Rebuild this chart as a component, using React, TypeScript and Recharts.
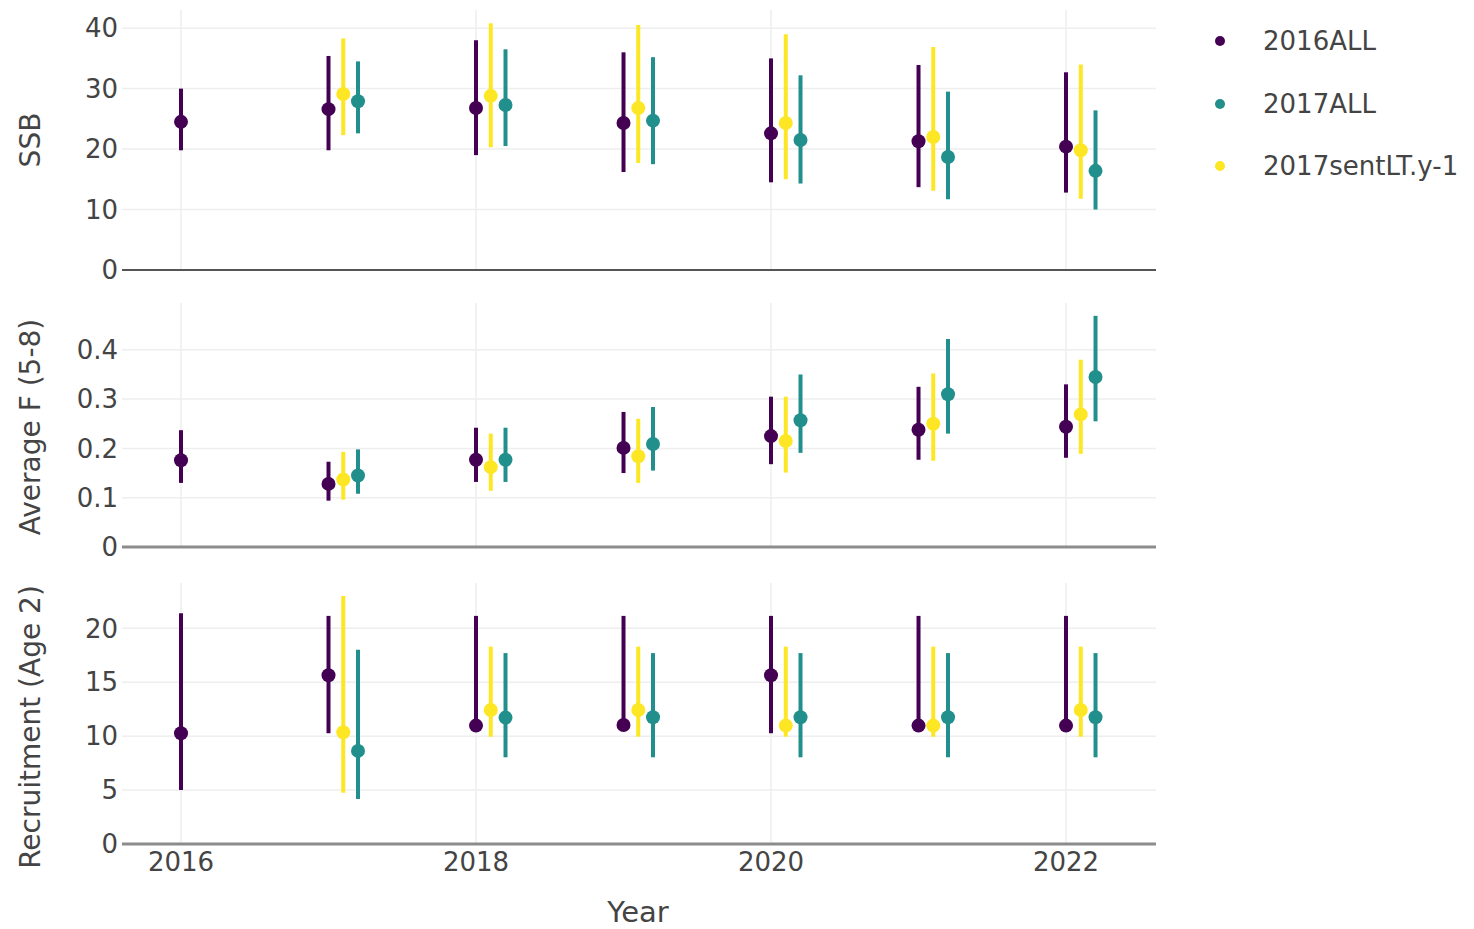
import React from 'react';
import { ScatterChart, Scatter, XAxis, YAxis, CartesianGrid, ErrorBar, ReferenceLine } from 'recharts';

// three stacked panels sharing the year axis: SSB / Average F / Recruitment

const YEARS = [2016, 2017, 2018, 2019, 2020, 2021, 2022];
const YEARS_2017 = [2017, 2018, 2019, 2020, 2021, 2022];
const YEAR_TICKS = [2016, 2018, 2020, 2022];

const SERIES_NAMES = ['2016ALL', '2017ALL', '2017sentLT.y-1'];
const COLORS = ['#440154', '#21908c', '#fde725'];
const DODGE = [0, 0.2, 0.1];

// SSB
const ssb2016All = [24.5, 26.6, 26.8, 24.3, 22.6, 21.3, 20.4];
const ssb2016AllLo = [19.8, 19.8, 19.0, 16.2, 14.5, 13.7, 12.8];
const ssb2016AllHi = [30.0, 35.4, 38.0, 36.0, 35.0, 33.9, 32.7];
const ssb2017All = [27.9, 27.3, 24.7, 21.5, 18.7, 16.4];
const ssb2017AllLo = [22.6, 20.5, 17.5, 14.3, 11.7, 10.0];
const ssb2017AllHi = [34.5, 36.5, 35.2, 32.2, 29.5, 26.4];
const ssb2017Sent = [29.1, 28.8, 26.8, 24.3, 22.0, 19.8];
const ssb2017SentLo = [22.3, 20.3, 17.7, 15.0, 13.1, 11.8];
const ssb2017SentHi = [38.3, 40.8, 40.5, 39.0, 36.9, 34.0];

// Average F (5-8)
const f2016All = [0.176, 0.128, 0.177, 0.201, 0.225, 0.238, 0.244];
const f2016AllLo = [0.13, 0.094, 0.132, 0.15, 0.168, 0.177, 0.181];
const f2016AllHi = [0.237, 0.173, 0.242, 0.274, 0.305, 0.325, 0.33];
const f2017All = [0.145, 0.177, 0.209, 0.257, 0.31, 0.345];
const f2017AllLo = [0.108, 0.132, 0.155, 0.191, 0.23, 0.255];
const f2017AllHi = [0.198, 0.242, 0.284, 0.35, 0.422, 0.469];
const f2017Sent = [0.137, 0.162, 0.184, 0.215, 0.25, 0.269];
const f2017SentLo = [0.096, 0.114, 0.13, 0.151, 0.175, 0.189];
const f2017SentHi = [0.193, 0.23, 0.26, 0.305, 0.352, 0.38];

// Recruitment (Age 2)
const rec2016All = [10.27, 15.65, 10.98, 11.04, 15.65, 10.98, 10.98];
const rec2016AllLo = [5.0, 10.27, 10.8, 10.8, 10.27, 10.8, 10.8];
const rec2016AllHi = [21.4, 21.15, 21.15, 21.15, 21.15, 21.15, 21.15];
const rec2017All = [8.63, 11.72, 11.75, 11.75, 11.75, 11.75];
const rec2017AllLo = [4.17, 8.04, 8.04, 8.04, 8.04, 8.04];
const rec2017AllHi = [18.0, 17.7, 17.7, 17.7, 17.7, 17.7];
const rec2017Sent = [10.36, 12.43, 12.43, 10.98, 10.98, 12.43];
const rec2017SentLo = [4.76, 9.95, 9.95, 9.95, 9.95, 9.95];
const rec2017SentHi = [23.0, 18.3, 18.3, 18.3, 18.3, 18.3];

const FONT = '"DejaVu Sans", Verdana, sans-serif';
const TEXT = '#444';
const X_DOMAIN: [number, number] = [2015.6, 2022.61];

function rows(years: number[], dodge: number, vals: number[], lo: number[], hi: number[]) {
  return years.map((yr, i) => ({
    x: yr + dodge,
    y: vals[i],
    err: [vals[i] - lo[i], hi[i] - vals[i]],
  }));
}

type Panel = {
  top: number;
  height: number;
  margin: { top: number; right: number; bottom: number; left: number };
  domain: [number, number];
  ticks: number[];
  fmt?: (v: number) => string;
  series: ReturnType<typeof rows>[];
  zeroColor: string;
  zeroWidth: number;
  showX: boolean;
};

const panels: Panel[] = [
  {
    top: 0,
    height: 290,
    margin: { top: 10, right: 4, bottom: 20, left: 0 },
    domain: [0, 43],
    ticks: [0, 10, 20, 30, 40],
    series: [
      rows(YEARS, DODGE[0], ssb2016All, ssb2016AllLo, ssb2016AllHi),
      rows(YEARS_2017, DODGE[1], ssb2017All, ssb2017AllLo, ssb2017AllHi),
      rows(YEARS_2017, DODGE[2], ssb2017Sent, ssb2017SentLo, ssb2017SentHi),
    ],
    zeroColor: '#555',
    zeroWidth: 2,
    showX: false,
  },
  {
    top: 290,
    height: 275,
    margin: { top: 13, right: 4, bottom: 18, left: 0 },
    domain: [0, 0.495],
    ticks: [0, 0.1, 0.2, 0.3, 0.4],
    fmt: (v) => (v === 0 ? '0' : v.toFixed(1)),
    series: [
      rows(YEARS, DODGE[0], f2016All, f2016AllLo, f2016AllHi),
      rows(YEARS_2017, DODGE[1], f2017All, f2017AllLo, f2017AllHi),
      rows(YEARS_2017, DODGE[2], f2017Sent, f2017SentLo, f2017SentHi),
    ],
    zeroColor: '#8c8c8c',
    zeroWidth: 3,
    showX: false,
  },
  {
    top: 570,
    height: 330,
    margin: { top: 13, right: 4, bottom: 16, left: 0 },
    domain: [0, 24.2],
    ticks: [0, 5, 10, 15, 20],
    series: [
      rows(YEARS, DODGE[0], rec2016All, rec2016AllLo, rec2016AllHi),
      rows(YEARS_2017, DODGE[1], rec2017All, rec2017AllLo, rec2017AllHi),
      rows(YEARS_2017, DODGE[2], rec2017Sent, rec2017SentLo, rec2017SentHi),
    ],
    zeroColor: '#8c8c8c',
    zeroWidth: 3,
    showX: true,
  },
];

const yTitles = [
  { text: 'SSB', y: 140 },
  { text: 'Average F (5-8)', y: 427 },
  { text: 'Recruitment (Age 2)', y: 727 },
];

const tickStyle = { fill: TEXT, fontSize: 26, fontFamily: FONT };

function dot(color: string) {
  return (props: any) => <circle cx={props.cx} cy={props.cy} r={7} fill={color} />;
}

export default function App() {
  return (
    <div style={{ position: 'absolute', left: 0, top: 0, width: 1474, height: 929, background: '#fff', fontFamily: FONT }}>
      {panels.map((p, pi) => (
        <div key={pi} style={{ position: 'absolute', left: 0, top: p.top }}>
          <ScatterChart width={1160} height={p.height} margin={p.margin}>
            <CartesianGrid stroke="#eeeeee" strokeWidth={1.5} syncWithTicks />
            <XAxis
              type="number"
              dataKey="x"
              domain={X_DOMAIN}
              ticks={YEAR_TICKS}
              interval={0}
              allowDataOverflow
              hide={!p.showX}
              height={p.showX ? 40 : 0}
              axisLine={{ stroke: p.zeroColor, strokeWidth: p.zeroWidth }}
              tickLine={false}
              tickSize={0}
              tickMargin={9}
              tick={tickStyle}
            />
            <YAxis
              type="number"
              dataKey="y"
              domain={p.domain}
              ticks={p.ticks}
              interval={0}
              allowDataOverflow
              width={122}
              axisLine={false}
              tickLine={false}
              tickSize={0}
              tickMargin={4}
              tick={tickStyle}
              tickFormatter={p.fmt}
            />
            {!p.showX && <ReferenceLine y={0} stroke={p.zeroColor} strokeWidth={p.zeroWidth} />}
            {p.series.map((data, si) => (
              <Scatter
                key={si}
                name={SERIES_NAMES[si]}
                data={data}
                fill={COLORS[si]}
                shape={dot(COLORS[si])}
                isAnimationActive={false}
              >
                <ErrorBar
                  dataKey="err"
                  direction="y"
                  width={0}
                  stroke={COLORS[si]}
                  strokeWidth={4}
                  isAnimationActive={false}
                />
              </Scatter>
            ))}
          </ScatterChart>
        </div>
      ))}

      {yTitles.map((t) => (
        <div
          key={t.text}
          style={{
            position: 'absolute',
            left: 30,
            top: t.y,
            transform: 'translate(-50%, -50%) rotate(-90deg)',
            whiteSpace: 'nowrap',
            fontSize: 28,
            color: TEXT,
          }}
        >
          {t.text}
        </div>
      ))}

      <div
        style={{
          position: 'absolute',
          left: 638,
          top: 912,
          transform: 'translate(-50%, -50%)',
          fontSize: 29,
          color: TEXT,
        }}
      >
        Year
      </div>

      {SERIES_NAMES.map((name, i) => (
        <div
          key={name}
          style={{
            position: 'absolute',
            left: 1215,
            top: 41 + i * 62.5,
            transform: 'translateY(-50%)',
            display: 'flex',
            alignItems: 'center',
            fontSize: 26,
            color: TEXT,
            whiteSpace: 'nowrap',
          }}
        >
          <span style={{ width: 10, height: 10, borderRadius: 5, background: COLORS[i], marginRight: 38 }} />
          {name}
        </div>
      ))}
    </div>
  );
}
